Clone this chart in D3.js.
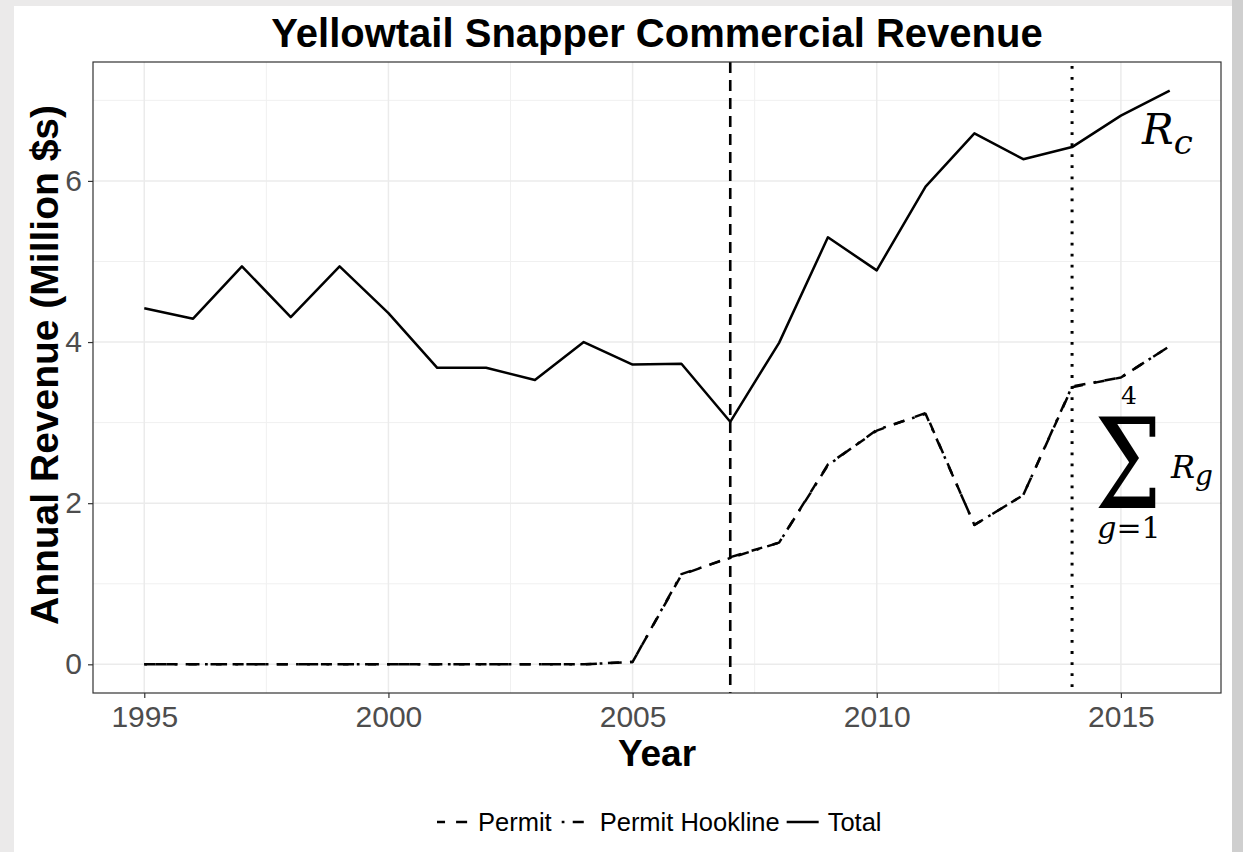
<!DOCTYPE html>
<html>
<head>
<meta charset="utf-8">
<script src="https://cdn.jsdelivr.net/npm/d3@7"></script>
<style>
  html, body { margin: 0; padding: 0; background: #ebeaea; }
  svg { display: block; }
</style>
</head>
<body>
<div id="chart"></div>
<script>
// data
const years = [1995, 1996, 1997, 1998, 1999, 2000, 2001, 2002, 2003, 2004, 2005,
               2006, 2007, 2008, 2009, 2010, 2011, 2012, 2013, 2014, 2015, 2016];
const total = [4.42, 4.29, 4.94, 4.31, 4.94, 4.36, 3.68, 3.68, 3.53, 4.00, 3.72,
               3.73, 3.01, 3.99, 5.30, 4.89, 5.93, 6.59, 6.27, 6.42, 6.81, 7.12];
const permit = [0, 0, 0, 0, 0, 0, 0, 0, 0, 0, 0.03,
                1.11, 1.33, 1.51, 2.48, 2.90, 3.12, 1.73, 2.10, 3.44, 3.56, 3.95];
const permitHookline = [0, 0, 0, 0, 0, 0, 0, 0, 0, 0, 0.03,
                        1.12, 1.32, 1.51, 2.47, 2.91, 3.11, 1.73, 2.10, 3.45, 3.56, 3.95];
const xTicks = [1995, 2000, 2005, 2010, 2015];
const yTicks = [0, 2, 4, 6];
const eventYears = [2007, 2014];
const seriesNames = ["Permit", "Permit Hookline", "Total"];

(function() {
  const width = 1243, height = 852;
  const margin = {left: 93, right: 22, top: 62, bottom: 159};
  const u = 2.76; // R dash unit (line width)

  const svg = d3.select("#chart").append("svg")
    .attr("width", width)
    .attr("height", height);

  // page: grey frame with white plot sheet
  svg.append("rect").attr("x", 0).attr("y", 0).attr("width", width).attr("height", height).attr("fill", "#ebeaea");
  svg.append("rect").attr("x", 1232).attr("y", 0).attr("width", 11).attr("height", height).attr("fill", "#cfcfcf");
  svg.append("rect").attr("x", 14).attr("y", 6).attr("width", 1218).attr("height", height - 6).attr("fill", "#ffffff");

  // ggplot-style expanded domains
  const x = d3.scaleLinear()
    .domain([1995 - 1.05, 2016 + 1.05])
    .range([margin.left, width - margin.right]);
  const yMax = d3.max(total);
  const y = d3.scaleLinear()
    .domain([-yMax * 0.05, yMax * 1.05])
    .range([height - margin.bottom, margin.top]);

  const x0 = margin.left, x1 = width - margin.right;
  const y0 = height - margin.bottom, y1 = margin.top;

  // grid
  const grid = svg.append("g");
  const minorX = [1997.5, 2002.5, 2007.5, 2012.5];
  const minorY = [1, 3, 5, 7];
  grid.selectAll("line.mx").data(minorX).enter().append("line")
    .attr("x1", d => x(d)).attr("x2", d => x(d)).attr("y1", y1).attr("y2", y0)
    .attr("stroke", "#f0f0f0").attr("stroke-width", 1);
  grid.selectAll("line.my").data(minorY).enter().append("line")
    .attr("y1", d => y(d)).attr("y2", d => y(d)).attr("x1", x0).attr("x2", x1)
    .attr("stroke", "#f0f0f0").attr("stroke-width", 1);
  grid.selectAll("line.gx").data(xTicks).enter().append("line")
    .attr("x1", d => x(d)).attr("x2", d => x(d)).attr("y1", y1).attr("y2", y0)
    .attr("stroke", "#ebebeb").attr("stroke-width", 1.5);
  grid.selectAll("line.gy").data(yTicks).enter().append("line")
    .attr("y1", d => y(d)).attr("y2", d => y(d)).attr("x1", x0).attr("x2", x1)
    .attr("stroke", "#ebebeb").attr("stroke-width", 1.5);

  // event lines
  svg.append("line")
    .attr("x1", x(eventYears[0])).attr("x2", x(eventYears[0])).attr("y1", y1).attr("y2", y0)
    .attr("stroke", "#000").attr("stroke-width", 2.6).attr("stroke-dasharray", "11,7");
  svg.append("line")
    .attr("x1", x(eventYears[1])).attr("x2", x(eventYears[1])).attr("y1", y1 + 4).attr("y2", y0)
    .attr("stroke", "#000").attr("stroke-width", 3).attr("stroke-dasharray", `${u},${3 * u}`);

  // series
  const line = d3.line().x((d, i) => x(years[i])).y(d => y(d));
  const styles = {
    "Permit": `${4 * u},${4 * u}`,
    "Permit Hookline": `${u},${3 * u},${4 * u},${3 * u}`,
    "Total": null
  };
  const seriesData = {"Permit": permit, "Permit Hookline": permitHookline, "Total": total};

  seriesNames.forEach(name => {
    svg.append("path")
      .datum(seriesData[name])
      .attr("d", line)
      .attr("fill", "none")
      .attr("stroke", "#000")
      .attr("stroke-width", 2.5)
      .attr("stroke-linejoin", "round")
      .attr("stroke-dasharray", styles[name]);
  });

  // panel border
  svg.append("rect")
    .attr("x", x0).attr("y", y1).attr("width", x1 - x0).attr("height", y0 - y1)
    .attr("fill", "none").attr("stroke", "#333333").attr("stroke-width", 1.2);

  // axes
  const xAxis = svg.append("g")
    .attr("transform", `translate(0,${y0})`)
    .call(d3.axisBottom(x).tickValues(xTicks).tickFormat(d3.format("d")).tickSize(5).tickPadding(8));
  xAxis.select(".domain").remove();
  xAxis.selectAll("line").attr("stroke", "#333333").attr("stroke-width", 1.2);
  xAxis.selectAll("text")
    .attr("font-family", "Liberation Sans, Arial, sans-serif")
    .attr("font-size", 30).attr("fill", "#4d4d4d");

  const yAxis = svg.append("g")
    .attr("transform", `translate(${x0},0)`)
    .call(d3.axisLeft(y).tickValues(yTicks).tickSize(5).tickPadding(6));
  yAxis.select(".domain").remove();
  yAxis.selectAll("line").attr("stroke", "#333333").attr("stroke-width", 1.2);
  yAxis.selectAll("text")
    .attr("font-family", "Liberation Sans, Arial, sans-serif")
    .attr("font-size", 30).attr("fill", "#4d4d4d");

  // titles
  svg.append("text")
    .attr("x", (x0 + x1) / 2).attr("y", 47)
    .attr("text-anchor", "middle")
    .attr("font-family", "Liberation Sans, Arial, sans-serif")
    .attr("font-weight", "bold").attr("font-size", 40)
    .text("Yellowtail Snapper Commercial Revenue");

  svg.append("text")
    .attr("x", (x0 + x1) / 2).attr("y", 766)
    .attr("text-anchor", "middle")
    .attr("font-family", "Liberation Sans, Arial, sans-serif")
    .attr("font-weight", "bold").attr("font-size", 37)
    .text("Year");

  svg.append("text")
    .attr("transform", "rotate(-90)")
    .attr("x", -365).attr("y", 58)
    .attr("text-anchor", "middle")
    .attr("font-family", "Liberation Sans, Arial, sans-serif")
    .attr("font-weight", "bold").attr("font-size", 39)
    .text("Annual Revenue (Million $s)");

  // math annotations
  const mathFont = "DejaVu Serif, Liberation Serif, serif";
  const rc = svg.append("text")
    .attr("x", 1142).attr("y", 144)
    .attr("font-family", mathFont).attr("font-style", "italic");
  rc.append("tspan").attr("font-size", 42).text("R");
  rc.append("tspan").attr("font-size", 34).attr("dy", 10).text("c");

  svg.append("text")
    .attr("x", 1129).attr("y", 404)
    .attr("text-anchor", "middle")
    .attr("font-family", mathFont).attr("font-size", 25)
    .text("4");

  svg.append("text")
    .attr("transform", "translate(1128,508) scale(0.76,1)")
    .attr("text-anchor", "middle")
    .attr("font-family", mathFont).attr("font-size", 125)
    .text("Σ");

  const lo = svg.append("text")
    .attr("x", 1129).attr("y", 538)
    .attr("text-anchor", "middle")
    .attr("font-family", mathFont).attr("font-size", 30);
  lo.append("tspan").attr("font-style", "italic").text("g");
  lo.append("tspan").text("=1");

  const rg = svg.append("text")
    .attr("x", 1171).attr("y", 478)
    .attr("font-family", mathFont).attr("font-style", "italic");
  rg.append("tspan").attr("font-size", 32).text("R");
  rg.append("tspan").attr("font-size", 28).attr("dy", 7).text("g");

  // legend
  const legend = svg.append("g");
  const keyW = 32, keyGap = 9, itemGap = 7, legendY = 822;
  const keyOffset = {"Permit": 3, "Permit Hookline": -3, "Total": 0};
  let cursor = 0;
  seriesNames.forEach(name => {
    const g = legend.append("g");
    g.append("line")
      .attr("x1", 0).attr("x2", keyW).attr("y1", 0).attr("y2", 0)
      .attr("stroke", "#000").attr("stroke-width", 2.5)
      .attr("stroke-dasharray", styles[name])
      .attr("stroke-dashoffset", keyOffset[name]);
    const t = g.append("text")
      .attr("x", keyW + keyGap).attr("y", 0).attr("dy", "0.35em")
      .attr("font-family", "Liberation Sans, Arial, sans-serif")
      .attr("font-size", 25.5).attr("fill", "#000")
      .text(name);
    const w = t.node().getComputedTextLength();
    g.attr("transform", `translate(${cursor},${legendY})`);
    cursor += keyW + keyGap + w + itemGap;
  });
  legend.attr("transform", "translate(437,0)");
})();
</script>
</body>
</html>
